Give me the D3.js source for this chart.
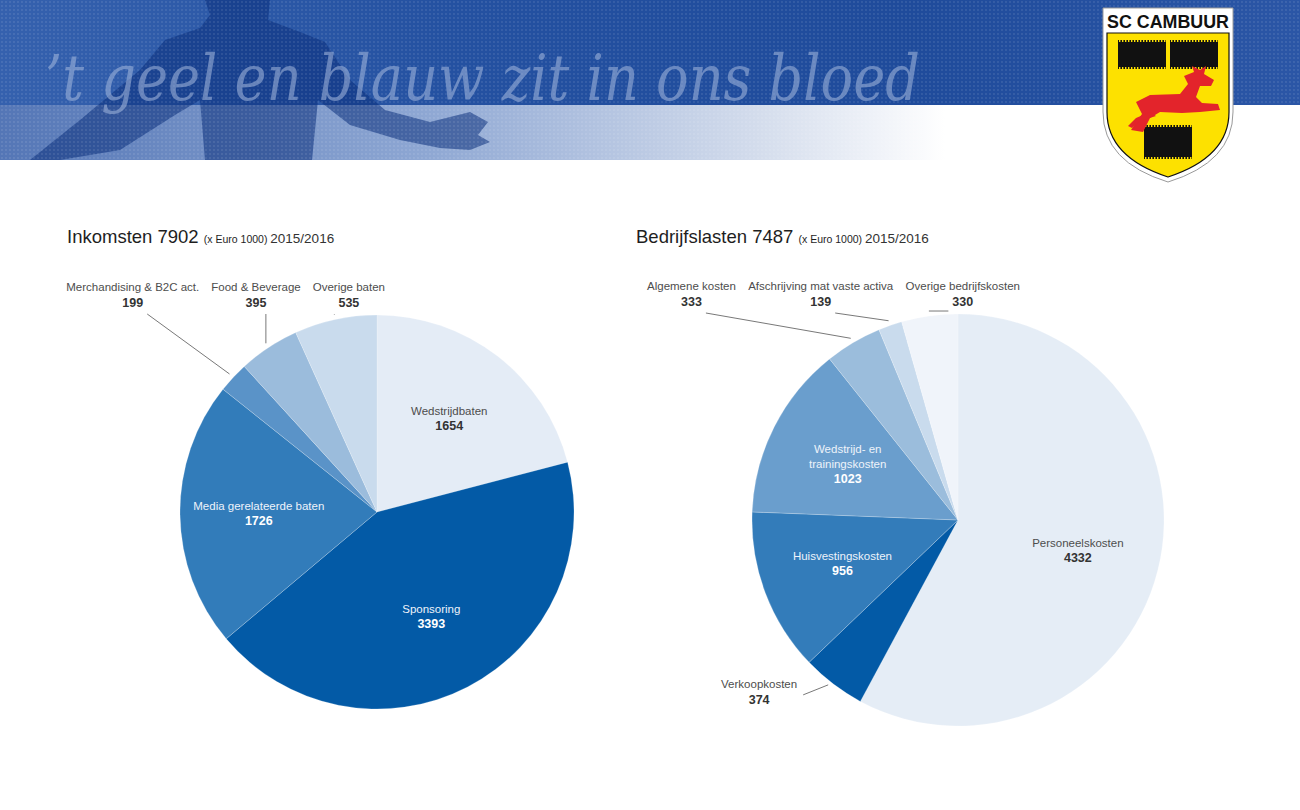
<!DOCTYPE html>
<html>
<head>
<meta charset="utf-8">
<script src="https://cdn.jsdelivr.net/npm/d3@7"></script>
<style>
  body { margin: 0; background: #fff; }
  svg text { font-family: "Liberation Sans", Arial, sans-serif; }
</style>
</head>
<body>
<div id="chart"></div>
<script>
// Inkomsten / Bedrijfslasten 2015/2016 (x Euro 1000)

// ---------- Data ----------
const incomeCategories = [
  "Wedstrijdbaten",
  "Sponsoring",
  "Media gerelateerde baten",
  "Merchandising & B2C act.",
  "Food & Beverage",
  "Overige baten"
];
const incomeValues = [1654, 3393, 1726, 199, 395, 535];

const costCategories = [
  "Personeelskosten",
  "Verkoopkosten",
  "Huisvestingskosten",
  "Wedstrijd- en\ntrainingskosten",
  "Algemene kosten",
  "Afschrijving mat vaste activa",
  "Overige bedrijfskosten"
];
const costValues = [4332, 374, 956, 1023, 333, 139, 330];

// colours (kept apart from the values)
const incomeColors = ["#e4ecf6", "#035aa6", "#327cba", "#5a93c8", "#9bbcdc", "#c9dbed"];
const costColors = ["#e5edf6", "#035aa6", "#337cba", "#6a9ecd", "#9bbddc", "#c9dbed", "#f0f4fa"];

const W = 1300, H = 810;

const svg = d3.select("#chart")
  .append("svg")
  .attr("width", W)
  .attr("height", H);

const defs = svg.append("defs");

// ---------- Header banner ----------
function drawHeader() {
  const topGrad = defs.append("linearGradient").attr("id", "topGrad");
  topGrad.append("stop").attr("offset", "0%").attr("stop-color", "#3561ae");
  topGrad.append("stop").attr("offset", "35%").attr("stop-color", "#2451a1");
  topGrad.append("stop").attr("offset", "70%").attr("stop-color", "#1f4b9b");
  topGrad.append("stop").attr("offset", "100%").attr("stop-color", "#2b56a6");

  const lowGrad = defs.append("linearGradient").attr("id", "lowGrad");
  lowGrad.append("stop").attr("offset", "0%").attr("stop-color", "#5476b6");
  lowGrad.append("stop").attr("offset", "45%").attr("stop-color", "#8ea7d3");
  lowGrad.append("stop").attr("offset", "80%").attr("stop-color", "#d3dcec");
  lowGrad.append("stop").attr("offset", "100%").attr("stop-color", "#ffffff");

  const dots = defs.append("pattern")
    .attr("id", "dots")
    .attr("width", 4).attr("height", 4)
    .attr("patternUnits", "userSpaceOnUse");
  dots.append("circle").attr("cx", 2).attr("cy", 2).attr("r", 0.9)
    .attr("fill", "#ffffff").attr("opacity", 0.12);

  const head = svg.append("g").attr("class", "header");

  head.append("rect").attr("x", 0).attr("y", 0).attr("width", W).attr("height", 105)
    .attr("fill", "url(#topGrad)");
  head.append("rect").attr("x", 0).attr("y", 105).attr("width", 945).attr("height", 55)
    .attr("fill", "url(#lowGrad)");

  // rough player silhouette
  head.append("path")
    .attr("d", "M205,0 L270,0 L268,20 L300,32 L325,42 L350,80 L385,110 L430,122 L470,112 L488,122 L478,135 L490,142 L470,150 L440,148 L400,140 L350,125 L318,100 L312,160 L205,160 L200,100 L175,115 L120,150 L60,160 L30,160 L80,120 L140,70 L165,40 L200,28 L210,15 Z")
    .attr("fill", "#0b2f7c")
    .attr("opacity", 0.55);

  head.append("rect").attr("x", 0).attr("y", 0).attr("width", 945).attr("height", 160)
    .attr("fill", "url(#dots)");
  head.append("rect").attr("x", 945).attr("y", 0).attr("width", W - 945).attr("height", 105)
    .attr("fill", "url(#dots)");

  head.append("text")
    .attr("x", 45)
    .attr("y", 100)
    .attr("textLength", 875)
    .attr("lengthAdjust", "spacingAndGlyphs")
    .style("font-family", "'DejaVu Serif', serif")
    .style("font-style", "italic")
    .style("font-size", "64px")
    .attr("fill", "#a5b9de")
    .attr("opacity", 0.55)
    .text("\u2019t geel en blauw zit in ons bloed");

  drawLogo(head);
}

function drawLogo(parent) {
  const g = parent.append("g").attr("class", "logo");

  g.append("path")
    .attr("d", "M1103,8 H1233 V112 Q1233,162 1168,182 Q1103,162 1103,112 Z")
    .attr("fill", "#ffffff")
    .attr("stroke", "#9a9a9a")
    .attr("stroke-width", 1);

  g.append("path")
    .attr("d", "M1107,33 H1229 V112 Q1229,157 1168,177 Q1107,157 1107,112 Z")
    .attr("fill", "#fde100")
    .attr("stroke", "#111")
    .attr("stroke-width", 1.2);

  g.append("text")
    .attr("x", 1168)
    .attr("y", 28)
    .attr("text-anchor", "middle")
    .attr("textLength", 122)
    .attr("lengthAdjust", "spacingAndGlyphs")
    .style("font-family", "'Liberation Sans Narrow', 'Liberation Sans', sans-serif")
    .style("font-weight", "bold")
    .style("font-size", "19px")
    .attr("fill", "#111")
    .text("SC CAMBUUR");

  // castle blocks with teeth
  const blocks = [
    { x: 1118, y: 40, w: 48, h: 29 },
    { x: 1170, y: 40, w: 48, h: 29 },
    { x: 1144, y: 125, w: 48, h: 34 }
  ];
  blocks.forEach(b => {
    g.append("rect").attr("x", b.x).attr("y", b.y).attr("width", b.w).attr("height", b.h)
      .attr("fill", "#111");
    for (let t = b.x + 1; t < b.x + b.w - 1; t += 3) {
      g.append("rect").attr("x", t).attr("y", b.y).attr("width", 1.4).attr("height", 2)
        .attr("fill", "#fde100");
      g.append("rect").attr("x", t).attr("y", b.y + b.h - 2).attr("width", 1.4).attr("height", 2)
        .attr("fill", "#fde100");
    }
  });

  // leaping red deer (rough)
  g.append("path")
    .attr("d", "M1131,130 L1142,114 L1136,102 L1150,95 L1180,94 L1188,84 L1184,76 L1194,72 L1192,66 L1200,70 L1206,66 L1204,74 L1214,80 L1211,86 L1200,86 L1196,97 L1202,103 L1218,104 L1220,110 L1200,112 L1182,113 L1160,112 L1150,118 L1143,132 Z")
    .attr("fill", "#e3242b");
  g.append("path")
    .attr("d", "M1150,112 L1136,118 L1128,126 L1132,128 L1140,121 L1156,116 Z")
    .attr("fill", "#e3242b");
}

// ---------- Pie chart ----------
function drawPie(cfg) {
  const { cx, cy, r, title, titleX, titleY, names, values, colors, rowRight } = cfg;

  const rows = names.map((n, i) => ({ name: n, value: values[i], color: colors[i] }));
  const total = d3.sum(values);

  // Title
  const t = svg.append("text")
    .attr("x", titleX)
    .attr("y", titleY)
    .attr("fill", "#1e1e1e");
  t.append("tspan").style("font-size", "18.5px").text(`${title} ${total} `);
  t.append("tspan").style("font-size", "10.5px").text("(x Euro 1000) ");
  t.append("tspan").style("font-size", "13.5px").attr("fill", "#333").text("2015/2016");

  const g = svg.append("g").attr("transform", `translate(${cx},${cy})`);

  const pie = d3.pie().sort(null).value(d => d.value);
  const arcs = pie(rows);

  const arc = d3.arc().innerRadius(0).outerRadius(r);
  const labelArc = d3.arc().innerRadius(r * 0.6).outerRadius(r * 0.6);

  g.selectAll("path.slice")
    .data(arcs)
    .join("path")
    .attr("class", "slice")
    .attr("d", arc)
    .attr("fill", d => d.data.color)
    .attr("stroke", "#ffffff")
    .attr("stroke-opacity", 0.35)
    .attr("stroke-width", 0.6);

  const minAngle = Math.PI / 6; // smaller slices get an outside label
  const isLight = c => d3.hsl(c).l > 0.72;

  // Inside labels
  arcs.filter(d => d.endAngle - d.startAngle >= minAngle).forEach(d => {
    const [x, y] = labelArc.centroid(d);
    const lines = d.data.name.split("\n");
    const n = lines.length + 1;
    const y0 = y - (n - 1) * 15 / 2 + 4;
    const light = isLight(d.data.color);

    const txt = g.append("text")
      .attr("text-anchor", "middle")
      .attr("x", x)
      .attr("y", y0);
    lines.forEach((line, i) => {
      txt.append("tspan")
        .attr("x", x)
        .attr("y", y0 + i * 15)
        .style("font-size", "11.5px")
        .attr("fill", light ? "#4d4d4d" : "#eef3fa")
        .text(line);
    });
    txt.append("tspan")
      .attr("x", x)
      .attr("y", y0 + lines.length * 15)
      .style("font-size", "12.5px")
      .style("font-weight", "bold")
      .attr("fill", light ? "#333" : "#ffffff")
      .text(d.data.value);
  });

  // Outside labels
  const outside = arcs.filter(d => d.endAngle - d.startAngle < minAngle);
  const midOf = d => (d.startAngle + d.endAngle) / 2;
  const edgePoint = d => {
    const a = midOf(d);
    return [Math.sin(a) * (r + 5), -Math.cos(a) * (r + 5)];
  };

  const makeLabel = d => {
    const lg = g.append("g");
    lg.append("text")
      .attr("class", "name")
      .attr("text-anchor", "middle")
      .attr("y", 0)
      .style("font-size", "11.5px")
      .attr("fill", "#4d4d4d")
      .text(d.data.name);
    lg.append("text")
      .attr("class", "val")
      .attr("text-anchor", "middle")
      .attr("y", 16)
      .style("font-size", "12.5px")
      .style("font-weight", "bold")
      .attr("fill", "#333")
      .text(d.data.value);
    return lg;
  };

  const leader = (from, to) => {
    g.append("line")
      .attr("x1", from[0]).attr("y1", from[1])
      .attr("x2", to[0]).attr("y2", to[1])
      .attr("stroke", "#555")
      .attr("stroke-width", 0.8);
  };

  const nearest = (box, p, pad) => [
    Math.max(box.x - pad, Math.min(p[0], box.x + box.width + pad)),
    Math.max(box.y - pad, Math.min(p[1], box.y + box.height + pad))
  ];

  const isTop = d => {
    const a = midOf(d);
    return a > Math.PI * 5 / 3 || a < Math.PI / 3;
  };

  // top row: packed right to left, above the pie
  const rowY = -r - 24;
  let right = rowRight - cx;
  outside.filter(isTop).reverse().forEach(d => {
    const lg = makeLabel(d);
    const w = lg.node().getBBox().width;
    const x = right - w / 2;
    lg.attr("transform", `translate(${x},${rowY})`);
    right = x - w / 2 - 12;

    const vb = lg.select(".val").node().getBBox();
    const box = { x: vb.x + x, y: vb.y + rowY, width: vb.width, height: vb.height };
    const p = edgePoint(d);
    leader(nearest(box, p, 4), p);
  });

  // side labels: left of the slice edge
  outside.filter(d => !isTop(d)).forEach(d => {
    const lg = makeLabel(d);
    const bb = lg.node().getBBox();
    const p = edgePoint(d);
    const x = p[0] - 33 - bb.width / 2;
    const y = p[1];
    lg.attr("transform", `translate(${x},${y})`);
    const start = [x + bb.x + bb.width + 6, y + 7];
    leader(start, [p[0] - 2, p[1] - 3]);
  });
}

drawHeader();

drawPie({
  cx: 377, cy: 512, r: 197,
  title: "Inkomsten", titleX: 67, titleY: 243,
  names: incomeCategories, values: incomeValues, colors: incomeColors,
  rowRight: 385
});

drawPie({
  cx: 958, cy: 520, r: 206,
  title: "Bedrijfslasten", titleX: 636, titleY: 243,
  names: costCategories, values: costValues, colors: costColors,
  rowRight: 1020
});
</script>
</body>
</html>
